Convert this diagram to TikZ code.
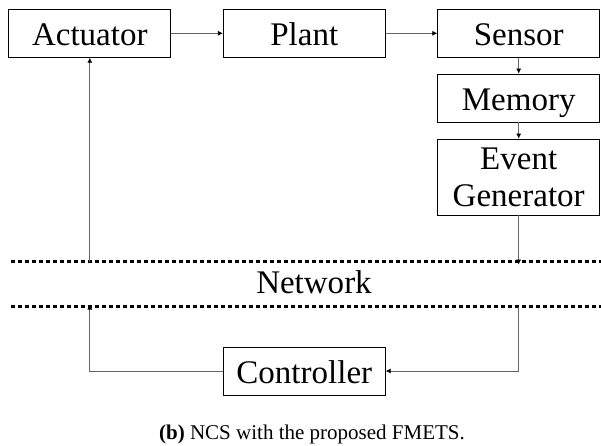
\documentclass[tikz,border=0pt]{standalone}
\usepackage{fontspec}
\setmainfont{Liberation Serif}
\usetikzlibrary{arrows.meta,positioning}

\begin{document}
\begin{tikzpicture}[
  x=1pt, y=-1pt,
  block/.style={
    draw, thick, minimum width=162pt, minimum height=48pt,
    inner sep=0pt, align=center, font=\fontsize{33}{37}\selectfont
  },
  oneline/.style={text height=25.4pt, text depth=0pt},
  arr/.style={-{Latex[length=5pt,width=5pt,black]}, line width=0.7pt, black!60},
  netline/.style={line width=3.3pt, dash pattern=on 3.5pt off 3.5pt},
]
\useasboundingbox (0,0) rectangle (601,446);

% Forward path (top row)
\node[block, oneline] (actuator) at (89.8,33.3)  {Actuator};
\node[block, oneline] (plant)    at (304.3,33.3) {Plant};
\node[block, oneline] (sensor)   at (518.7,33.3) {Sensor};

% Right column under the sensor
\node[block, oneline] (memory) at (518.7,98) {Memory};
\node[block, minimum height=76pt]
  (eventgen) at (518.7,177) {Event\\Generator};

% Network band
\coordinate (netTL) at (11,261.5);
\coordinate (netTR) at (601,261.5);
\coordinate (netBL) at (11,306.5);
\coordinate (netBR) at (601,306.5);
\draw[netline] (netTL) -- (netTR);
\draw[netline] (netBL) -- (netBR);
\node[font=\fontsize{33}{37}\selectfont, anchor=base] (network) at (314,293) {Network};

% Controller below the network
\node[block, oneline] (controller) at (304.3,371) {Controller};

% Connection points on the network lines
\coordinate (actIn)  at (actuator.south |- netTL);
\coordinate (evOut)  at (eventgen.south |- netTL);
\coordinate (ctrOut) at (actuator.south |- netBL);
\coordinate (ctrIn)  at (eventgen.south |- netBL);

% Arrows
\draw[arr] (actuator) -- (plant);
\draw[arr] (plant) -- (sensor);
\draw[arr] (sensor) -- (memory);
\draw[arr] (memory) -- (eventgen);
\draw[arr] (eventgen.south) -- ([yshift=-3pt]evOut);
\draw[arr] (actIn) -- (actuator.south);
\draw[arr] (ctrIn) |- (controller.east);
\draw[arr] (controller.west) -| ([yshift=2pt]ctrOut);

% Caption
\node[font=\fontsize{21}{25}\selectfont, anchor=base] (caption) at (312,439)
  {\textbf{(b)} NCS with the proposed FMETS.};

\end{tikzpicture}
\end{document}
